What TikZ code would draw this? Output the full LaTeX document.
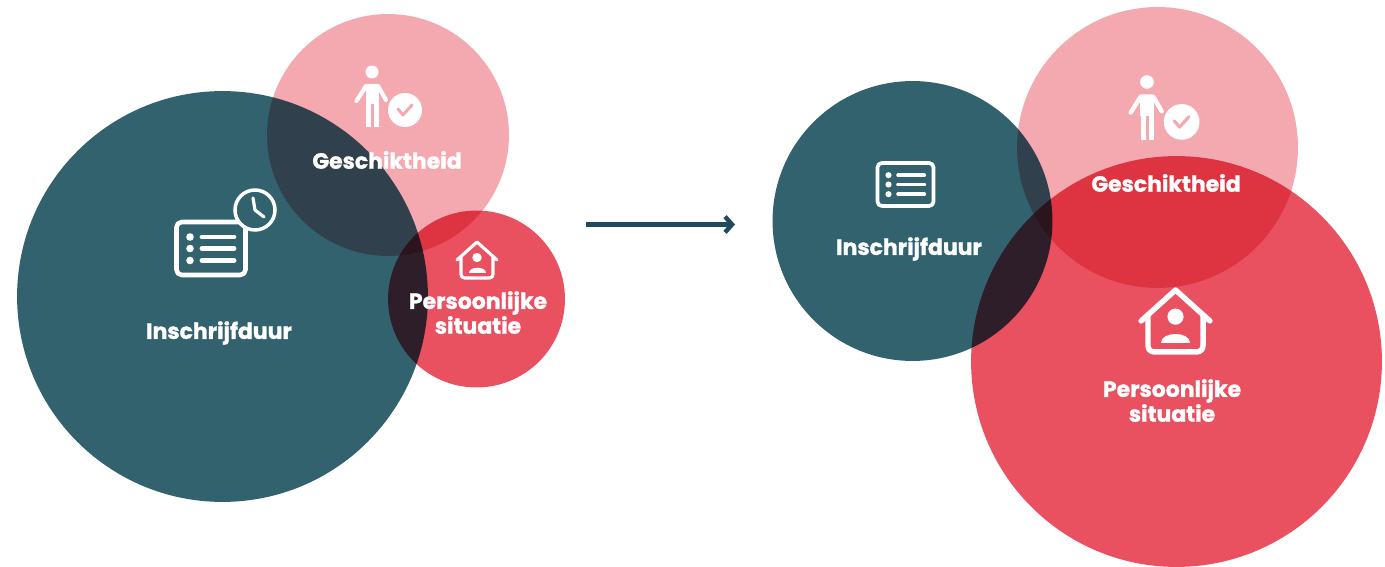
\documentclass[tikz,border=0pt]{standalone}
\usepackage{fontspec}
\setmainfont{Poppins}[BoldFeatures={FakeBold=1.3}]
\usetikzlibrary{arrows.meta}
\definecolor{tealc}{HTML}{33626F}
\definecolor{pinkc}{HTML}{F4A8B0}
\definecolor{redc}{HTML}{E95060}
\definecolor{arrowc}{HTML}{1F4B5C}
\tikzset{
  blob/.style={circle,inner sep=0pt,outer sep=0pt,draw=none,minimum size=#1*0.04cm},
  lab/.style={text=white,font=\bfseries\fontsize{12.5}{13}\selectfont,align=center,inner sep=0pt},
  ic/.style={draw=white,line width=#1,line cap=round,line join=round},
}
% px is 0.02cm = 0.569pt
\newcommand{\docicon}[3]{%
  \begin{scope}[shift={(#1,#2)},scale=#3]
    \draw[ic=2.6pt*#3,rounded corners=3pt*#3] (-34.5,-26.5) rectangle (34.5,26.5);
    \foreach \yy in {-11.5,0,12}{
      \fill[white] (-21,\yy) circle (3.8);
      \draw[ic=2.8pt*#3] (-9,\yy) -- (23,\yy);
    }
  \end{scope}}
\newcommand{\personicon}[3]{%
  \begin{scope}[shift={(#1,#2)},scale=#3]
    \fill[white] (0,0) circle (6.5);
    \fill[white] (-6.5,12) rectangle (7,32);
    \draw[ic=2.4pt*#3] (-15.5,29) -- (-6,14) -- (6,14) -- (14,28);
    \draw[ic=2.7pt*#3,line cap=butt] (-3.8,20) -- (-3.8,55);
    \draw[ic=2.7pt*#3,line cap=butt] (4.6,20) -- (4.6,55);
    \fill[white] (33,38) circle (17);
    \draw[draw=pinkc,line width=1.7pt*#3,line cap=round,line join=round] (26,37) -- (31,43) -- (40,33);
  \end{scope}}
\newcommand{\homeicon}[3]{%
  \begin{scope}[shift={(#1,#2)},scale=#3]
    \draw[ic=1.8pt*#3] (-20,18) -- (0,0) -- (20,18);
    \draw[ic=1.8pt*#3,rounded corners=2pt*#3] (-16,15) -- (-16,36) -- (16,36) -- (16,15);
    \fill[white] (0,15.5) circle (4.7);
    \fill[white] (-8.5,31) .. controls (-8.5,24) and (8.5,24) .. (8.5,31) -- cycle;
  \end{scope}}
\begin{document}
\begin{tikzpicture}[x=0.02cm,y=-0.02cm]
\useasboundingbox (0,0) rectangle (1385,567);
\fill[white] (0,0) rectangle (1385,567);
\begin{scope}[blend mode=multiply]
  \node[blob=121,fill=pinkc] (lpink) at (388,135) {};
  \node[blob=205.5,fill=tealc] (lteal) at (222.5,296.5) {};
  \node[blob=88.5,fill=redc] (lred) at (476.5,299) {};
  \node[blob=140.5,fill=pinkc] (rpink) at (1157.5,147.5) {};
  \node[blob=140,fill=tealc] (rteal) at (912.5,221) {};
  \node[blob=205.5,fill=redc] (rred) at (1176.5,361.5) {};
\end{scope}
% left icons
\docicon{211}{248.5}{1}
\filldraw[fill=tealc,draw=white,line width=2pt] (255,210) circle (20);
\draw[ic=1.8pt] (253,198) -- (255,210) -- (264,217);
\personicon{372}{72}{1}
\homeicon{477}{242}{1}
% right icons
\docicon{905.5}{184.5}{0.81}
\personicon{1147}{82}{1.05}
\homeicon{1175.5}{290}{1.72}
% labels
\node[lab] (a1) at (219,333) {Inschrijfduur};
\node[lab] (a2) at (387,160) {Geschiktheid};
\node[lab] (a3) at (478,303) {Persoonlijke};
\node[lab] (a4) at (478,325) {situatie};
\node[lab] (b1) at (909,249) {Inschrijfduur};
\node[lab] (b2) at (1166,183) {Geschiktheid};
\node[lab] (b3) at (1172,391) {Persoonlijke};
\node[lab] (b4) at (1172,413) {situatie};
% arrow
\coordinate (from) at (586,224.5);
\coordinate (to) at (735,224.5);
\draw[arrowc,line width=2.3pt,-{Straight Barb[length=4pt,width=9pt,line width=2.5pt]}] (from) -- (to);
\end{tikzpicture}
\end{document}
